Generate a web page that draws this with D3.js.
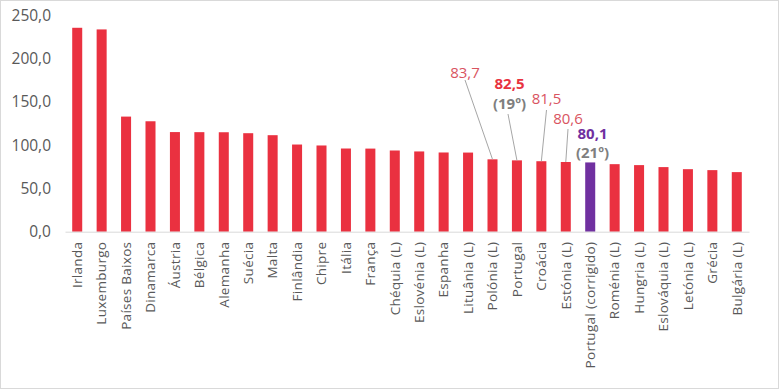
<!DOCTYPE html>
<html><head><meta charset="utf-8">
<script src="https://cdn.jsdelivr.net/npm/d3@7"></script>
<style>
html,body{margin:0;padding:0;background:#fff;}
svg{display:block;font-family:"Open Sans",sans-serif;}
</style></head>
<body>
<svg id="chart" width="780" height="390"></svg>
<script>
const categories = ["Irlanda","Luxemburgo","Países Baixos","Dinamarca","Áustria","Bélgica","Alemanha","Suécia","Malta","Finlândia","Chipre","Itália","França","Chéquia (L)","Eslovénia (L)","Espanha","Lituânia (L)","Polónia (L)","Portugal","Croácia","Estónia (L)","Portugal (corrigido)","Roménia (L)","Hungria (L)","Eslováquia (L)","Letónia (L)","Grécia","Bulgária (L)"];
const values = [235.8,233.9,133.1,127.7,115.2,115.1,115.0,113.9,111.6,100.8,99.7,96.2,96.1,93.9,92.8,91.6,91.5,83.7,82.5,81.5,80.6,80.1,78.1,77.0,74.7,72.3,71.2,68.9];
const highlight = "Portugal (corrigido)";
const yTicks = [0,50,100,150,200,250];
// annotations: category, value label, rank label
const annotCats = ["Polónia (L)","Portugal","Croácia","Estónia (L)","Portugal (corrigido)"];
const annotTexts = ["83,7","82,5","81,5","80,6","80,1"];
const annotRanks = ["","(19º)","","","(21º)"];

const svg = d3.select("#chart");
const W = 780, H = 390;
svg.append("rect").attr("x",0.5).attr("y",0.5).attr("width",W-2).attr("height",H-2)
  .attr("fill","#fff").attr("stroke","#d9d9d9");

const x = d3.scaleBand().domain(categories).range([65,749]).paddingInner(0.59).paddingOuter(0.295);
const y = d3.scaleLinear().domain([0,250]).range([231.7,15.5]);

const fmt = d => d3.format(".1f")(d).replace(".",",");

// y axis labels
const yAxis = svg.append("g").attr("transform","translate(51,0)")
  .call(d3.axisLeft(y).tickValues(yTicks).tickFormat(fmt).tickSize(0).tickPadding(0));
yAxis.select(".domain").remove();
yAxis.selectAll("text").attr("font-size","15.5px").attr("fill","#595959").attr("font-family","Open Sans");

// bars
svg.append("g").selectAll("rect").data(categories).join("rect")
  .attr("x", d => x(d)).attr("width", x.bandwidth())
  .attr("y", (d,i) => y(values[i])).attr("height", (d,i) => y(0) - y(values[i]))
  .attr("fill", d => d === highlight ? "#7030a0" : "#ea3140");

// baseline + category labels
const xAxis = svg.append("g").attr("transform",`translate(0,${y(0)})`)
  .call(d3.axisBottom(x).tickSize(0).tickPadding(0).tickSizeOuter(0));
xAxis.select(".domain").attr("stroke","#d9d9d9").attr("stroke-width",1);
xAxis.selectAll("text")
  .attr("transform","rotate(-90)")
  .attr("text-anchor","end")
  .attr("x",-10).attr("y",0).attr("dy","0.35em")
  .attr("font-size","13.5px").attr("letter-spacing","0.3px")
  .attr("fill","#595959").attr("font-family","Open Sans");

// annotations (label layout positions)
const labelPos = [[465,72.5],[509.5,84],[546.5,98.5],[568,118.5],[592.5,133.5]];
const lineStart = [[465,80],[508,114],[546.5,110],[568,129],null];
const ann = svg.append("g");
annotCats.forEach((c,i) => {
  const v = values[categories.indexOf(c)];
  const cx = x(c) + x.bandwidth()/2;
  if (lineStart[i]) {
    ann.append("line").attr("x1",lineStart[i][0]).attr("y1",lineStart[i][1])
      .attr("x2",cx).attr("y2",y(v)).attr("stroke","#a6a6a6").attr("stroke-width",1);
  }
  const bold = annotRanks[i] !== "";
  const col = c === highlight ? "#7030a0" : (bold ? "#e8333f" : "#d9545f");
  ann.append("text").attr("x",labelPos[i][0]).attr("y",labelPos[i][1]).attr("dy","0.35em")
    .attr("text-anchor","middle").attr("font-size","15px")
    .attr("font-weight", bold ? "bold" : "normal").attr("fill",col).text(annotTexts[i]);
  if (bold) {
    ann.append("text").attr("x",labelPos[i][0]).attr("y",labelPos[i][1]+19.5).attr("dy","0.35em")
      .attr("text-anchor","middle").attr("font-size","15px").attr("font-weight","bold")
      .attr("fill","#7f7f7f").text(annotRanks[i]);
  }
});
</script>
</body></html>
